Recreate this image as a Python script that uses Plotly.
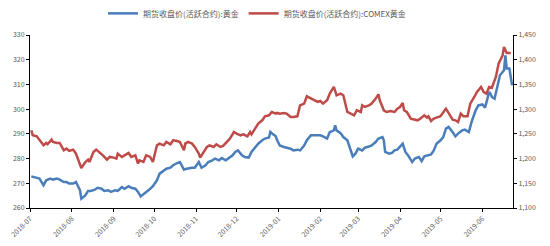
import plotly.graph_objects as go

# 期货收盘价(活跃合约):黄金 (left axis)
shfe_dates = [
    "2018-07-02", "2018-07-05", "2018-07-08", "2018-07-11", "2018-07-13", "2018-07-16", "2018-07-18", "2018-07-21",
    "2018-07-23", "2018-07-26", "2018-07-28", "2018-07-30", "2018-08-02", "2018-08-04", "2018-08-07", "2018-08-08",
    "2018-08-11", "2018-08-13", "2018-08-15", "2018-08-18", "2018-08-20", "2018-08-23", "2018-08-25", "2018-08-28",
    "2018-08-30", "2018-09-02", "2018-09-04", "2018-09-07", "2018-09-09", "2018-09-12", "2018-09-14", "2018-09-17",
    "2018-09-19", "2018-09-21", "2018-09-23", "2018-09-25", "2018-09-28", "2018-09-30",
    "2018-10-03", "2018-10-05", "2018-10-08", "2018-10-10", "2018-10-13", "2018-10-15", "2018-10-18", "2018-10-20",
    "2018-10-23", "2018-10-25", "2018-10-29", "2018-10-31", "2018-11-03", "2018-11-05", "2018-11-08", "2018-11-10",
    "2018-11-13", "2018-11-15", "2018-11-18", "2018-11-20", "2018-11-23", "2018-11-25", "2018-11-28", "2018-11-30",
    "2018-12-02", "2018-12-05", "2018-12-07", "2018-12-10", "2018-12-12", "2018-12-15", "2018-12-17", "2018-12-20",
    "2018-12-22", "2018-12-25", "2018-12-26", "2018-12-28", "2018-12-30",
    "2018-12-31", "2019-01-02", "2019-01-05", "2019-01-07", "2019-01-10", "2019-01-12", "2019-01-15", "2019-01-17",
    "2019-01-20", "2019-01-22", "2019-01-25", "2019-01-27", "2019-01-30", "2019-02-01", "2019-02-03", "2019-02-06",
    "2019-02-08", "2019-02-11", "2019-02-12", "2019-02-13", "2019-02-16", "2019-02-18", "2019-02-21", "2019-02-23",
    "2019-02-25", "2019-02-27", "2019-03-01", "2019-03-04", "2019-03-06", "2019-03-09", "2019-03-11", "2019-03-14",
    "2019-03-16", "2019-03-19", "2019-03-20", "2019-03-21", "2019-03-24", "2019-03-26", "2019-03-28",
    "2019-03-30", "2019-04-01", "2019-04-03", "2019-04-05", "2019-04-07", "2019-04-10", "2019-04-12", "2019-04-15",
    "2019-04-17", "2019-04-19", "2019-04-21", "2019-04-24", "2019-04-26", "2019-04-28", "2019-05-01", "2019-05-03",
    "2019-05-05", "2019-05-07", "2019-05-10", "2019-05-12", "2019-05-14", "2019-05-17", "2019-05-19", "2019-05-22",
    "2019-05-24", "2019-05-27", "2019-05-29", "2019-06-01", "2019-06-03", "2019-06-06", "2019-06-07", "2019-06-08",
    "2019-06-10", "2019-06-12", "2019-06-14", "2019-06-17", "2019-06-18", "2019-06-19", "2019-06-21", "2019-06-23",
]
shfe_values = [
    272.8, 272.3, 271.9, 269.2, 271.2, 271.9, 271.5, 271.9,
    271.5, 270.5, 270.5, 269.9, 269.9, 270.5, 267.2, 263.8,
    265.1, 266.9, 266.9, 267.4, 268.2, 267.8, 266.9, 267.2,
    266.5, 267.2, 266.9, 268.5, 267.8, 268.8, 268.2, 267.8,
    266.5, 264.7, 265.5, 266.5, 267.8, 268.8,
    271.2, 273.9, 275.0, 275.9, 276.3, 277.3, 278.2, 278.6,
    275.5, 275.9, 276.3, 276.3, 278.6, 276.3, 277.3, 278.6,
    279.3, 280.0, 279.3, 280.2, 279.3, 280.0, 281.3, 282.7,
    283.3, 281.3, 280.6, 280.4, 282.7, 284.7, 286.0, 287.4,
    288.1, 288.5, 290.8, 289.8, 289.0,
    287.4, 285.3, 284.7, 284.4, 284.0, 283.3, 283.6, 283.3,
    285.3, 287.4, 289.4, 289.4, 289.4, 289.4, 289.0, 288.1,
    290.7, 291.4, 293.5, 291.4, 290.3, 288.7, 287.4, 284.0,
    280.9, 282.0, 284.0, 283.3, 284.4, 284.9, 285.3, 286.7,
    288.1, 288.7, 287.4, 282.7, 282.0, 282.3, 283.3,
    283.6, 284.7, 286.0, 282.7, 281.3, 278.6, 280.0, 280.6,
    279.0, 280.9, 281.3, 281.7, 283.3, 286.0, 287.4, 288.7,
    292.1, 292.8, 290.7, 289.0, 290.1, 291.4, 291.7, 290.7,
    294.8, 299.5, 301.5, 301.9, 300.6, 306.9, 306.3, 304.9,
    304.2, 309.6, 313.7, 315.7, 321.8, 316.4, 316.4, 309.6,
]

# 期货收盘价(活跃合约):COMEX黄金 (right axis)
comex_dates = [
    "2018-07-02", "2018-07-03", "2018-07-06", "2018-07-08", "2018-07-11", "2018-07-13", "2018-07-14", "2018-07-17",
    "2018-07-18", "2018-07-21", "2018-07-23", "2018-07-26", "2018-07-28", "2018-07-30", "2018-08-02", "2018-08-04",
    "2018-08-07", "2018-08-08", "2018-08-11", "2018-08-13", "2018-08-14", "2018-08-17", "2018-08-19", "2018-08-22",
    "2018-08-24", "2018-08-27", "2018-08-29", "2018-09-01", "2018-09-03", "2018-09-04", "2018-09-07", "2018-09-09",
    "2018-09-12", "2018-09-14", "2018-09-17", "2018-09-19", "2018-09-20", "2018-09-23", "2018-09-25", "2018-09-28",
    "2018-09-30",
    "2018-10-03", "2018-10-05", "2018-10-08", "2018-10-10", "2018-10-13", "2018-10-15", "2018-10-18", "2018-10-20",
    "2018-10-23", "2018-10-24", "2018-10-26", "2018-10-29", "2018-10-31", "2018-11-03", "2018-11-04", "2018-11-07",
    "2018-11-09", "2018-11-11", "2018-11-14", "2018-11-16", "2018-11-19", "2018-11-21", "2018-11-24", "2018-11-26",
    "2018-11-29", "2018-12-01", "2018-12-04", "2018-12-06", "2018-12-09", "2018-12-11", "2018-12-12", "2018-12-15",
    "2018-12-17", "2018-12-20", "2018-12-22", "2018-12-25", "2018-12-27", "2018-12-30",
    "2018-12-31", "2019-01-02", "2019-01-05", "2019-01-07", "2019-01-10", "2019-01-12", "2019-01-15", "2019-01-17",
    "2019-01-20", "2019-01-22", "2019-01-25", "2019-01-27", "2019-01-30", "2019-02-01", "2019-02-03", "2019-02-06",
    "2019-02-08", "2019-02-11", "2019-02-12", "2019-02-13", "2019-02-16", "2019-02-18", "2019-02-21", "2019-02-23",
    "2019-02-26", "2019-02-28", "2019-03-03", "2019-03-04", "2019-03-06", "2019-03-09", "2019-03-11", "2019-03-14",
    "2019-03-16", "2019-03-17", "2019-03-20", "2019-03-22", "2019-03-25", "2019-03-28",
    "2019-03-30", "2019-04-01", "2019-04-03", "2019-04-04", "2019-04-06", "2019-04-09", "2019-04-11", "2019-04-14",
    "2019-04-16", "2019-04-19", "2019-04-21", "2019-04-22", "2019-04-24", "2019-04-26", "2019-04-28", "2019-05-01",
    "2019-05-05", "2019-05-07", "2019-05-10", "2019-05-12", "2019-05-14", "2019-05-16", "2019-05-18", "2019-05-21",
    "2019-05-23", "2019-05-26", "2019-05-28", "2019-05-31", "2019-06-02", "2019-06-04", "2019-06-06", "2019-06-08",
    "2019-06-11", "2019-06-13", "2019-06-16", "2019-06-17", "2019-06-19", "2019-06-22",
]
comex_values = [
    1257.2, 1247.1, 1245.1, 1238.3, 1226.9, 1231.6, 1228.9, 1238.3,
    1233.6, 1231.6, 1231.6, 1216.7, 1220.1, 1215.4, 1218.1, 1210.0,
    1189.8, 1181.0, 1193.1, 1197.9, 1193.1, 1213.4, 1218.1, 1211.3,
    1206.6, 1197.9, 1203.3, 1201.9, 1199.9, 1210.0, 1203.3, 1206.6,
    1211.3, 1203.3, 1206.6, 1189.8, 1196.5, 1193.1, 1206.6, 1203.3,
    1193.1,
    1226.8, 1230.2, 1226.8, 1233.6, 1228.9, 1237.0, 1235.6, 1233.6,
    1216.7, 1230.2, 1233.6, 1230.2, 1223.5, 1210.0, 1201.9, 1213.4,
    1223.5, 1226.8, 1223.5, 1228.9, 1223.5, 1225.5, 1233.6, 1240.3,
    1253.8, 1250.4, 1247.1, 1249.1, 1245.0, 1253.8, 1249.1, 1263.9,
    1270.7, 1277.4, 1285.5, 1287.5, 1294.3, 1290.9,
    1292.3, 1290.9, 1292.3, 1290.9, 1284.2, 1284.2, 1285.5, 1307.8,
    1311.2, 1326.0, 1321.3, 1319.2, 1314.5, 1316.5, 1311.2, 1317.9,
    1331.4, 1344.9, 1338.1, 1328.0, 1331.4, 1328.0, 1294.3, 1290.9,
    1287.5, 1297.7, 1294.3, 1307.8, 1304.4, 1307.8, 1311.2, 1321.3,
    1330.0, 1317.9, 1297.7, 1294.3, 1296.3, 1294.3,
    1301.0, 1304.4, 1312.5, 1297.7, 1294.3, 1280.8, 1278.8, 1277.4,
    1280.8, 1287.5, 1282.8, 1285.5, 1276.1, 1280.8, 1282.8, 1285.5,
    1301.0, 1292.3, 1278.8, 1277.4, 1274.0, 1290.9, 1285.5, 1285.5,
    1311.1, 1324.6, 1334.7, 1344.9, 1334.7, 1331.4, 1344.9, 1343.5,
    1365.1, 1392.1, 1408.9, 1425.8, 1413.6, 1413.6,
]

x_ticks = ["2018-07-01", "2018-08-01", "2018-09-01", "2018-10-01", "2018-11-01", "2018-12-01",
           "2019-01-01", "2019-02-01", "2019-03-01", "2019-04-01", "2019-05-01", "2019-06-01"]
x_labels = ["2018-07", "2018-08", "2018-09", "2018-10", "2018-11", "2018-12",
            "2019-01", "2019-02", "2019-03", "2019-04", "2019-05", "2019-06"]

FONT = "Noto Sans CJK SC, Noto Sans, sans-serif"
GREY = "#595959"

fig = go.Figure()
fig.add_trace(go.Scatter(x=shfe_dates, y=shfe_values, mode="lines",
                         name="期货收盘价(活跃合约):黄金",
                         line=dict(color="#4A7EBB", width=2.5)))
fig.add_trace(go.Scatter(x=comex_dates, y=comex_values, mode="lines",
                         name="期货收盘价(活跃合约):COMEX黄金", yaxis="y2",
                         line=dict(color="#BE4B48", width=2.5)))

fig.update_layout(
    width=550, height=246,
    margin=dict(l=30, r=37, t=35, b=38, autoexpand=False),
    paper_bgcolor="white", plot_bgcolor="white",
    font=dict(family=FONT, color=GREY, size=8),
    showlegend=True,
    legend=dict(orientation="h", x=0.47, xanchor="center", y=1.125, yanchor="middle",
                font=dict(size=8, color=GREY), itemwidth=30, tracegroupgap=0,
                bgcolor="rgba(0,0,0,0)"),
    xaxis=dict(type="date", range=["2018-07-01", "2019-06-23 16:00"],
               tickmode="array", tickvals=x_ticks, ticktext=x_labels,
               tickangle=-45, tickfont=dict(size=7, color=GREY),
               showline=True, linecolor="black", linewidth=1,
               ticks="outside", ticklen=3, tickcolor="black",
               showgrid=False, zeroline=False),
    yaxis=dict(range=[260, 330], dtick=10, tick0=260,
               tickfont=dict(size=7, color=GREY),
               showline=True, linecolor="black", linewidth=1,
               ticks="outside", ticklen=3, tickcolor="black",
               showgrid=False, zeroline=False),
    yaxis2=dict(range=[1100, 1450], dtick=50, tick0=1100, overlaying="y", side="right",
                tickformat=",", tickfont=dict(size=7, color=GREY),
                showline=True, linecolor="black", linewidth=1,
                ticks="outside", ticklen=3, tickcolor="black",
                showgrid=False, zeroline=False),
)

fig.write_html("out.html")
